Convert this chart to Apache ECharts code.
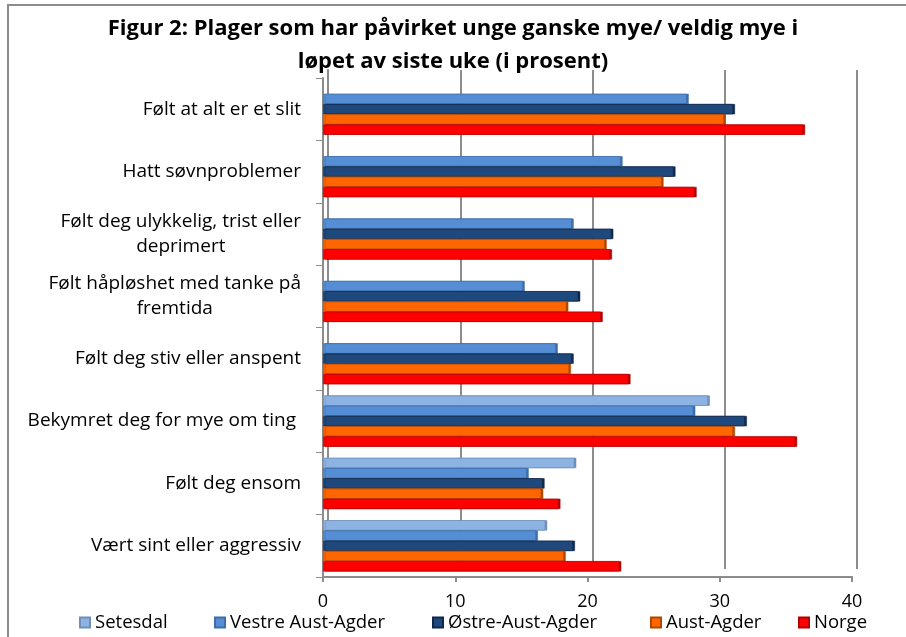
<!DOCTYPE html>
<html>
<head>
<meta charset="utf-8">
<script src="https://cdn.jsdelivr.net/npm/echarts@6/dist/echarts.min.js"></script>
<style>
  html, body { margin: 0; padding: 0; background: #fff; }
  #chart { width: 906px; height: 637px; }
</style>
</head>
<body>
<div id="chart"></div>
<script>
// data (percent)
const categories = [
    'Følt at alt er et slit',
    'Hatt søvnproblemer',
    'Følt deg ulykkelig, trist eller\ndeprimert',
    'Følt håpløshet med tanke på\nfremtida',
    'Følt deg stiv eller anspent',
    'Bekymret deg for mye om ting ',
    'Følt deg ensom',
    'Vært sint eller aggressiv'
]
const seriesNames = ['Setesdal', 'Vestre Aust-Agder', 'Østre-Aust-Agder', 'Aust-Agder', 'Norge']
const setesdal = [null, null, null, null, null, 29.1, 19.0, 16.8]
const vestreAustAgder = [27.5, 22.5, 18.8, 15.1, 17.6, 28.0, 15.4, 16.1]
const ostreAustAgder = [31.0, 26.5, 21.8, 19.3, 18.8, 31.9, 16.6, 18.9]
const austAgder = [30.3, 25.6, 21.3, 18.4, 18.6, 31.0, 16.5, 18.2]
const norge = [36.3, 28.1, 21.7, 21.0, 23.1, 35.7, 17.8, 22.4]
const xTicks = [0, 10, 20, 30, 40]

const colorList = ['#8DB3E2', '#558ED5', '#1F497D', '#FF6600', '#FF0000']
const edgeList = ['#6F8FB8', '#3F6DA8', '#10294A', '#B34700', '#B30000']
const font = 'Open Sans'
const gray = '#8C8C8C'

const seriesData = [setesdal, vestreAustAgder, ostreAustAgder, austAgder, norge]
const legendLeft = [74, 209, 427, 645, 793]

const chart = echarts.init(document.getElementById('chart'))

const option = {
    animation: false,
    title: {
        text: 'Figur 2: Plager som har påvirket unge ganske mye/ veldig mye i\nløpet av siste uke (i prosent)',
        left: 'center',
        top: 7,
        textStyle: {
            fontFamily: font,
            fontSize: 22,
            fontWeight: 'bold',
            color: '#000',
            lineHeight: 33
        }
    },
    graphic: [
        {
            type: 'rect',
            shape: { x: 8, y: 5, width: 920, height: 700 },
            style: { fill: 'none', stroke: gray, lineWidth: 2 },
            silent: true
        }
    ],
    legend: seriesNames.map((n, i) => ({
        data: [n],
        left: legendLeft[i],
        top: 608,
        icon: 'rect',
        itemWidth: 10,
        itemHeight: 10,
        itemGap: 5,
        textStyle: { fontFamily: font, fontSize: 18.5, color: '#000' }
    })),
    grid: [
        // front plane: bars, labels
        { left: 323, right: 54, top: 78, bottom: 60 },
        // back wall: gridlines
        { left: 328, right: 49, top: 70, bottom: 68 }
    ],
    xAxis: [
        {
            gridIndex: 0,
            type: 'value',
            min: 0,
            max: 40,
            interval: 10,
            axisLine: { show: true, lineStyle: { color: gray, width: 2 } },
            axisTick: { show: true, length: 5, inside: false, lineStyle: { color: gray, width: 2 } },
            splitLine: { show: false },
            axisLabel: { margin: 16, fontFamily: font, fontSize: 18, color: '#000' }
        },
        {
            gridIndex: 1,
            type: 'value',
            min: 0,
            max: 40,
            interval: 10,
            axisLine: { show: false },
            axisTick: { show: false },
            axisLabel: { show: false },
            splitLine: { show: true, lineStyle: { color: gray, width: 2 } }
        }
    ],
    yAxis: [
        {
            gridIndex: 0,
            type: 'category',
            inverse: true,
            data: categories,
            axisLine: { show: true, lineStyle: { color: gray, width: 2 } },
            axisTick: { show: true, length: 7, lineStyle: { color: gray, width: 1 } },
            axisLabel: {
                margin: 22,
                align: 'right',
                formatter: v => v.split('\n').map(s => '{c|' + s + '}').join('\n'),
                rich: {
                    c: { align: 'center', fontFamily: font, fontSize: 19, lineHeight: 25, color: '#000' }
                }
            }
        },
        {
            gridIndex: 1,
            type: 'value',
            show: true,
            min: 0,
            max: 1,
            axisLine: { show: true, lineStyle: { color: gray, width: 2 } },
            axisTick: { show: false },
            axisLabel: { show: false },
            splitLine: { show: false }
        }
    ],
    series: seriesData.map((d, i) => ({
        name: seriesNames[i],
        type: 'bar',
        xAxisIndex: 0,
        yAxisIndex: 0,
        data: d,
        barGap: '0%',
        barCategoryGap: '18%',
        itemStyle: {
            color: colorList[i],
            borderColor: edgeList[i],
            borderWidth: 0.5,
            shadowColor: edgeList[i],
            shadowOffsetX: 2,
            shadowOffsetY: 0,
            shadowBlur: 0
        }
    }))
}

chart.setOption(option)
</script>
</body>
</html>
